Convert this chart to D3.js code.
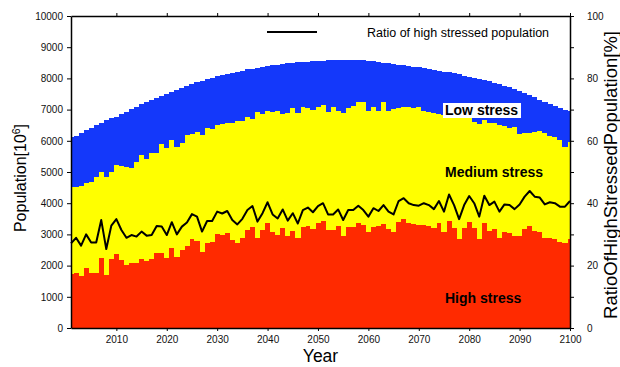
<!DOCTYPE html>
<html lang="en">
<head>
  <meta charset="UTF-8">
  <title>Population by water stress</title>
  <style>
    *{box-sizing:border-box;margin:0;padding:0}
    body{background:#fff;width:620px;height:367px;overflow:hidden}
    svg{display:block;font-family:'Liberation Sans',Arial,Helvetica,sans-serif}
    .tick text{font-size:10px;fill:#111}
    .tick line,.domain{stroke:#000}
    .lbl{font-weight:bold;font-size:14px;fill:#000}
  </style>
  <script src="https://d3js.org/d3.v7.min.js"></script>
</head>
<body>
  <div id="chart"></div>
  <script>
    /* ---------- DATA (population in 10^6, ratio in %) ---------- */
    const years = d3.range(2001, 2101);

    const highStress = [
      1720,1770,1670,1910,1750,1770,2255,1700,2200,2360,
      2165,2020,2095,2075,2210,2160,2200,2415,2415,2235,
      2550,2285,2510,2630,2855,2800,2445,2740,2760,3005,
      2965,3060,2825,2730,2875,3140,3250,2875,3140,3375,
      3085,2980,3215,2960,3110,2875,3250,3270,3175,3355,
      3430,3140,3130,3265,2960,3250,3225,3355,3300,3085,
      3250,3270,3335,3175,3085,3410,3495,3370,3320,3300,
      3310,3275,3200,3355,3070,3420,3220,2855,3200,3400,
      3195,2855,3360,3110,3160,2890,3085,3035,2950,2950,
      3160,3270,3110,3090,2870,2890,2860,2770,2720,2850
    ];
    const mediumStress = [
      2790,2760,2890,2750,2930,3080,2755,3130,2790,2875,
      3035,3150,3025,3235,3325,3260,3400,3205,3485,3545,
      3480,3525,3410,3555,3355,3490,3730,3660,3610,3500,
      3565,3520,3755,3905,3760,3630,3450,4055,3710,3590,
      3845,3975,3635,3920,3930,4005,3825,3790,3815,3735,
      3710,3780,3940,3695,3930,3800,3885,3875,3930,3870,
      3830,3680,3895,3785,3925,3650,3580,3705,3720,3790,
      3655,3660,3700,3505,3760,3380,3550,3865,3570,3320,
      3415,3685,3310,3470,3400,3620,3390,3365,3480,3270,
      3080,2990,3180,3235,3370,3275,3270,3255,3090,3120
    ];
    const lowStress = [
      1620,1630,1680,1675,1740,1650,1570,1835,1730,1530,
      1650,1760,1890,1765,1635,1815,1710,1740,1535,1730,
      1545,1820,1765,1580,1610,1585,1755,1570,1655,1560,
      1580,1560,1605,1580,1615,1520,1610,1415,1525,1435,
      1490,1485,1610,1605,1455,1635,1450,1475,1555,1470,
      1430,1658,1512,1626,1698,1538,1476,1352,1345,1607,
      1470,1580,1275,1525,1455,1385,1350,1330,1340,1270,
      1365,1370,1375,1390,1390,1395,1390,1410,1320,1340,
      1415,1450,1280,1330,1300,1300,1285,1310,1220,1370,
      1290,1200,1100, 995,1010,1015, 980,1025,1190, 980
    ];
    const highRatio = [
      27.1,28.9,26.4,30.0,27.4,27.4,34.6,25.3,32.8,34.9,
      31.4,28.9,29.8,29.3,30.9,29.6,29.8,32.7,32.5,29.8,
      33.9,30.0,32.5,33.8,36.5,35.7,30.9,34.3,34.3,37.3,
      36.7,37.5,34.6,33.2,35.0,37.8,39.1,34.1,36.8,40.3,
      36.4,35.1,38.0,34.4,36.8,33.5,37.8,38.6,37.1,39.1,
      40.0,36.4,36.4,38.0,34.6,37.8,37.8,39.2,37.8,35.7,
      38.4,37.5,39.4,37.3,36.4,40.7,41.6,40.0,39.4,39.2,
      40.0,39.4,38.1,40.7,37.3,42.8,39.4,34.9,39.4,42.3,
      40.0,35.7,42.4,39.4,40.5,37.3,39.6,39.4,38.1,39.6,
      42.1,43.9,42.1,41.8,39.6,40.3,40.0,38.9,38.9,40.7
    ];

    const categories = ['High stress','Medium stress','Low stress'];
    const colors = ['#ff2a00','#ffff00','#1438fa'];
    const popTicks = d3.range(0, 10001, 1000);
    const ratioTicks = d3.range(0, 101, 10);
    const yearTicks = d3.range(2010, 2101, 10);
    const legendText = 'Ratio of high stressed population';

    /* ---------- LAYOUT ---------- */
    const W = 620, H = 367;
    const plot = {left:71, right:570, top:16, bottom:328};

    const svg = d3.select('#chart').append('svg').attr('width', W).attr('height', H);

    const x = d3.scaleLinear().domain([2001, 2100]).range([plot.left, plot.right]);
    const y = d3.scaleLinear().domain([0, 10000]).range([plot.bottom, plot.top]);
    const y2 = d3.scaleLinear().domain([0, 100]).range([plot.bottom, plot.top]);
    const barW = x(2002) - x(2001);

    /* ---- stacked rows ---- */
    const rows = years.map((yr, i) => ({year: yr, 'High stress': highStress[i], 'Medium stress': mediumStress[i], 'Low stress': lowStress[i]}));
    const stacked = d3.stack().keys(categories)(rows);

    svg.append('clipPath').attr('id', 'clip').append('rect')
       .attr('x', plot.left).attr('y', plot.top)
       .attr('width', plot.right - plot.left).attr('height', plot.bottom - plot.top);

    const bars = svg.append('g').attr('clip-path', 'url(#clip)').attr('shape-rendering', 'crispEdges');
    stacked.forEach((layer, k) => {
      bars.append('g').attr('fill', colors[k]).selectAll('rect').data(layer).enter().append('rect')
          .attr('x', d => x(d.data.year) - barW / 2)
          .attr('width', barW + 0.2)
          .attr('y', d => y(d[1]))
          .attr('height', d => y(d[0]) - y(d[1]));
    });

    /* ---- ratio line ---- */
    const line = d3.line().x((d, i) => x(years[i])).y(d => y2(d));
    svg.append('path').datum(highRatio)
       .attr('fill', 'none').attr('stroke', '#000').attr('stroke-width', 2)
       .attr('stroke-linejoin', 'round').attr('d', line);

    /* ---- axes ---- */
    svg.append('g').attr('transform', `translate(${plot.left},0)`)
       .call(d3.axisLeft(y).tickValues(popTicks).tickFormat(d3.format('d')).tickSize(4).tickSizeOuter(0).tickPadding(4));
    svg.append('g').attr('transform', `translate(${plot.right},0)`)
       .call(d3.axisRight(y2).tickValues(ratioTicks).tickSize(4).tickSizeOuter(0).tickPadding(13)
             .tickFormat(d => d % 20 === 0 ? d : ''));
    svg.append('g').attr('transform', `translate(0,${plot.bottom})`)
       .call(d3.axisBottom(x).tickValues(yearTicks).tickFormat(d3.format('d')).tickSize(3).tickSizeOuter(0).tickPadding(5));
    svg.append('g').attr('transform', `translate(0,${plot.top})`)
       .call(d3.axisTop(x).tickValues(yearTicks).tickFormat('').tickSize(3).tickSizeOuter(0));
    svg.selectAll('.domain').attr('stroke-width', 1.5);

    /* ---- axis titles ---- */
    svg.append('text').attr('x', (plot.left + plot.right) / 2).attr('y', 362)
       .attr('text-anchor', 'middle').style('font-size', '17.5px').text('Year');
    const lt = svg.append('text').attr('transform', `translate(26,${(plot.top + plot.bottom) / 2 + 6}) rotate(-90)`)
       .attr('text-anchor', 'middle').style('font-size', '16px');
    lt.append('tspan').text('Population[10');
    lt.append('tspan').attr('dy', -6).style('font-size', '10.5px').text('6');
    lt.append('tspan').attr('dy', 6).text(']');
    svg.append('text').attr('transform', `translate(617,175) rotate(-90)`)
       .attr('text-anchor', 'middle').style('font-size', '18.5px').text('RatioOfHighStressedPopulation[%]');

    /* ---- legend ---- */
    svg.append('line').attr('x1', 267).attr('x2', 317).attr('y1', 32).attr('y2', 32)
       .attr('stroke', '#000').attr('stroke-width', 2);
    svg.append('text').attr('x', 367).attr('y', 37).style('font-size', '12.5px').text(legendText);

    /* ---- category labels ---- */
    const lowBox = {x:443, y:103, w:78, h:15};
    svg.append('rect').attr('x', lowBox.x).attr('y', lowBox.y).attr('width', lowBox.w).attr('height', lowBox.h).attr('fill', '#fff');
    svg.append('text').attr('class', 'lbl').attr('x', 445).attr('y', 115).text(categories[2]);
    svg.append('text').attr('class', 'lbl').attr('x', 445).attr('y', 177).text(categories[1]);
    svg.append('text').attr('class', 'lbl').attr('x', 445).attr('y', 303).text(categories[0]);
  </script>
</body>
</html>
